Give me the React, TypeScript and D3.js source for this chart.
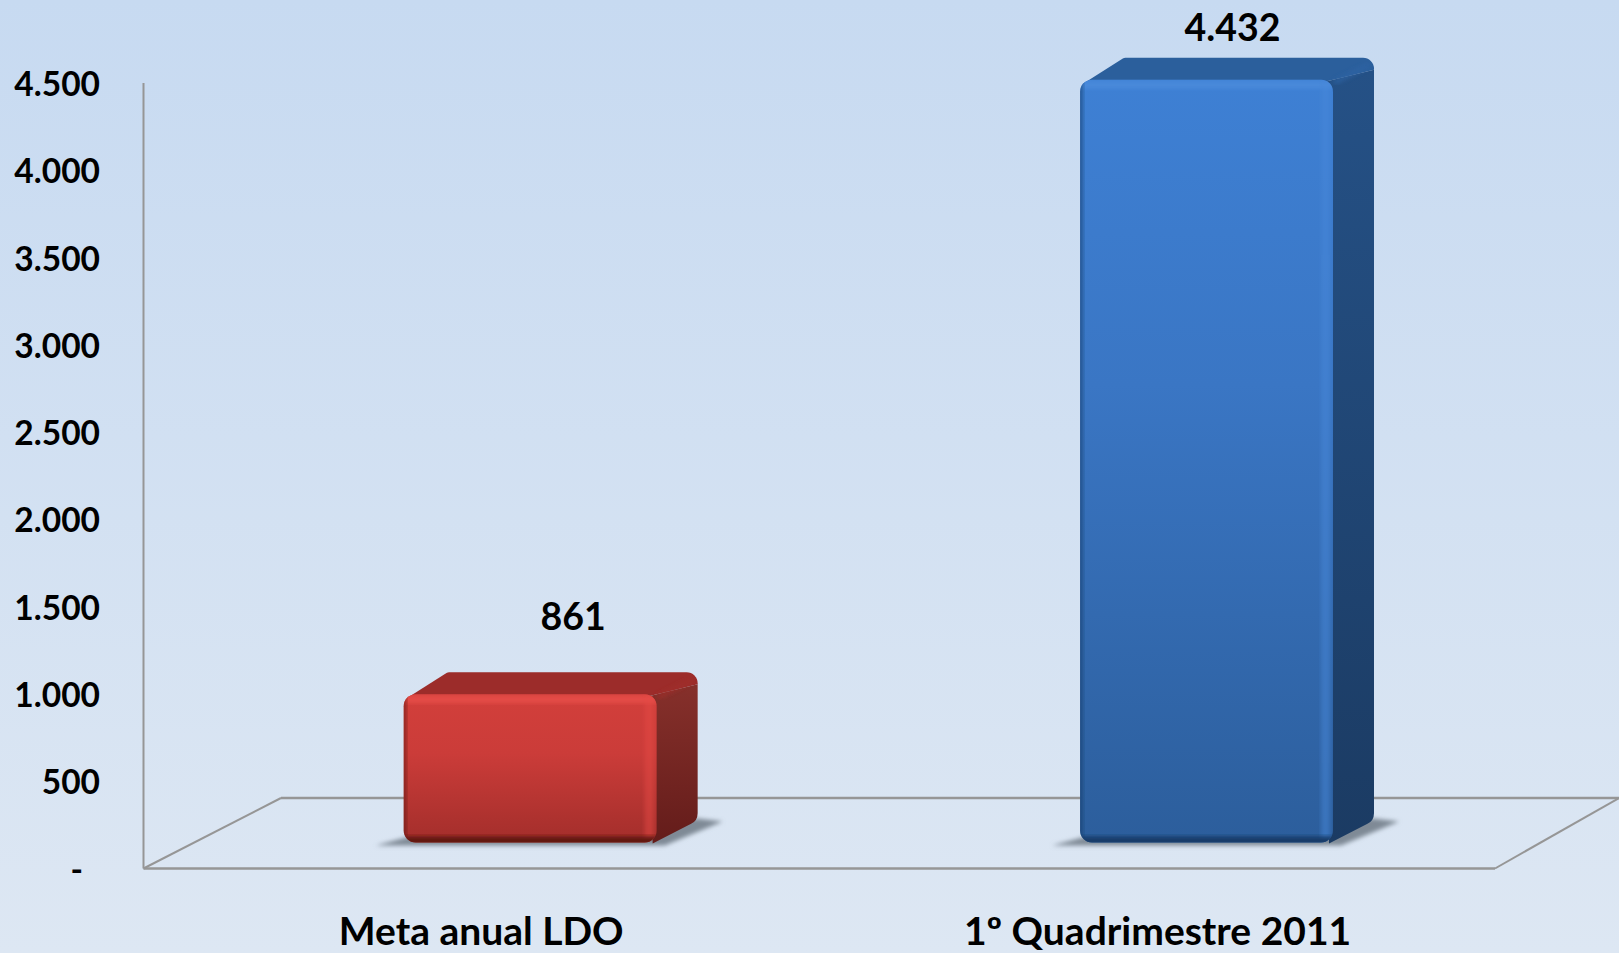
import * as d3 from "d3";

const categories = ["Meta anual LDO", "1º Quadrimestre 2011"];
const values = [861, 4432];
const tickValues = [0, 500, 1000, 1500, 2000, 2500, 3000, 3500, 4000, 4500];

const W = 1619;
const H = 953;

const FONT = "Lato, Carlito, 'Open Sans', sans-serif";

const ptBR = d3.formatLocale({ decimal: ",", thousands: ".", grouping: [3], currency: ["", ""] });
const fmt = ptBR.format(",d");
const tickLabel = (v: number) => (v === 0 ? "-" : fmt(v));

// axis plane
const y = d3.scaleLinear().domain([0, 4500]).range([868.5, 83]);
// front plane of the bars sits a bit forward on the floor
const yBar = d3.scaleLinear().domain([0, 4500]).range([842.5, 68]);
const x = d3.scaleBand<string>().domain(categories).range([403.7, 1333]).paddingInner(0.626).paddingOuter(0);

const depthX = 41;
const depthY = -22;

const palette = [
  {
    id: "red",
    front: ["#d23f3b", "#cb3c39", "#a32e2b"],
    strip: "#e44c47",
    rim: "#5e1411",
    top: "#9c2c2a",
    side: ["#86302b", "#641c1a"],
    sideRim: "#a02e2b",
  },
  {
    id: "blue",
    front: ["#3e80d4", "#3a76c4", "#2c5e9c"],
    strip: "#4889da",
    rim: "#173a66",
    top: "#2b5f9c",
    side: ["#255186", "#1b3b63"],
    sideRim: "#2e64a4",
  },
];

// label nudges, the labels are not centred on the bars in the source
const categoryShift = -49;
const valueShift = [43, 26];
const valueGap = [56, 30];

// closed polygon with rounded corners, radius per corner
const roundedPoly = (pts: number[][], radii: number[]) => {
  const p = d3.path();
  const n = pts.length;
  const mid = [(pts[n - 1][0] + pts[0][0]) / 2, (pts[n - 1][1] + pts[0][1]) / 2];
  p.moveTo(mid[0], mid[1]);
  pts.forEach((pt, i) => {
    const next = pts[(i + 1) % n];
    if (radii[i] > 0) p.arcTo(pt[0], pt[1], next[0], next[1], radii[i]);
    else p.lineTo(pt[0], pt[1]);
  });
  p.closePath();
  return p.toString();
};

const Bar = ({ i }: { i: number }) => {
  const c = palette[i];
  const x0 = x(categories[i]) as number;
  const x1 = x0 + x.bandwidth();
  const yt = yBar(values[i]);
  const yb = yBar(0);

  const front = roundedPoly(
    [[x0, yt], [x1, yt], [x1, yb], [x0, yb]],
    [12, 12, 12, 12]
  );
  const top = roundedPoly(
    [[x0 + 3, yt + 4], [x0 + depthX + 3, yt + depthY], [x1 + depthX, yt + depthY], [x1 + depthX, yt + depthY + 12], [x1 - 8, yt + 2], [x0 + 3, yt + 10]],
    [0, 5, 11, 0, 0, 0]
  );
  const side = roundedPoly(
    [[x1 - 8, yt + 2], [x1 + depthX, yt + depthY + 12], [x1 + depthX, yb + depthY], [x1 - 4, yb + 1]],
    [0, 0, 12, 0]
  );
  const shadow = [
    [x0 - 28, yb + 3],
    [x0 + 6, yb - 6],
    [x1 + depthX, yb + depthY - 2],
    [x1 + depthX + 25, yb + depthY + 1],
    [x1 + 8, yb + 3],
  ].map((p) => p.join(",")).join(" ");

  return (
    <g>
      <polygon points={shadow} fill="#7f8a96" filter="url(#soft)" />
      <path d={top} fill={c.top} />
      <path d={side} fill={`url(#side-${c.id})`} />
      <path d={`M${x1 + 3},${yt + 2}L${x1 + depthX - 7},${yt + depthY + 8}`} stroke={c.sideRim} strokeWidth={5} strokeLinecap="round" filter="url(#soft)" opacity={0.7} />
      <clipPath id={`clip-${c.id}`}>
        <path d={front} />
      </clipPath>
      <path d={front} fill={`url(#front-${c.id})`} />
      <g clipPath={`url(#clip-${c.id})`}>
        <rect x={x0} y={yt + 1} width={x1 - x0} height={8} fill={c.strip} filter="url(#soft)" />
        <rect x={x1 - 12} y={yt} width={9} height={yb - yt} fill={c.strip} opacity={0.5} filter="url(#soft)" />
        <rect x={x0 - 3} y={yt} width={6} height={yb - yt} fill={c.rim} opacity={0.55} filter="url(#soft)" />
        <rect x={x0} y={yb - 6} width={x1 - x0} height={8} fill={c.rim} filter="url(#soft)" />
      </g>
    </g>
  );
};

export default function App() {
  const floorFrontY = y(0);
  const floorBackY = 798;
  const axisX = 143.5;
  const backLeft = 281;
  const frontRight = 1495;

  return (
    <svg width={W} height={H} viewBox={`0 0 ${W} ${H}`} style={{ position: "absolute", left: 0, top: 0, display: "block" }}>
      <defs>
        <linearGradient id="bg" x1="0" y1="0" x2="0" y2="1">
          <stop offset="0" stopColor="#c7daf1" />
          <stop offset="1" stopColor="#dde7f3" />
        </linearGradient>
        <filter id="soft" x="-20%" y="-20%" width="140%" height="140%">
          <feGaussianBlur stdDeviation="2" />
        </filter>
        {palette.map((c) => (
          <g key={c.id}>
            <linearGradient id={`front-${c.id}`} x1="0" y1="0" x2="0" y2="1">
              <stop offset="0" stopColor={c.front[0]} />
              <stop offset="0.4" stopColor={c.front[1]} />
              <stop offset="1" stopColor={c.front[2]} />
            </linearGradient>
            <linearGradient id={`side-${c.id}`} x1="0" y1="0" x2="0" y2="1">
              <stop offset="0" stopColor={c.side[0]} />
              <stop offset="1" stopColor={c.side[1]} />
            </linearGradient>
          </g>
        ))}
      </defs>

      <rect width={W} height={H} fill="url(#bg)" />

      {/* floor and value axis */}
      <g fill="none" stroke="#969696" strokeWidth={2.5}>
        <line x1={axisX} y1={y(4500)} x2={axisX} y2={floorFrontY} strokeWidth={2} />
        <line x1={axisX} y1={floorFrontY} x2={frontRight} y2={floorFrontY} />
        <line x1={axisX} y1={floorFrontY} x2={backLeft} y2={floorBackY} strokeWidth={2} />
        <line x1={backLeft} y1={floorBackY} x2={W} y2={floorBackY} />
        <line x1={frontRight} y1={floorFrontY} x2={W} y2={floorBackY} strokeWidth={2} />
      </g>

      {tickValues.map((v) => (
        <text
          key={v}
          x={v === 0 ? 83 : 100}
          y={y(v) + 1}
          dy="0.36em"
          textAnchor="end"
          fontFamily={FONT}
          fontWeight={700}
          fontSize={33.5}
          fill="#000"
        >
          {tickLabel(v)}
        </text>
      ))}

      {categories.map((_, i) => (
        <Bar key={i} i={i} />
      ))}

      {categories.map((name, i) => {
        const cx = (x(name) as number) + x.bandwidth() / 2;
        return (
          <g key={name} fontFamily={FONT} fontWeight={700} fill="#000" textAnchor="middle">
            <text x={cx + valueShift[i]} y={yBar(values[i]) + depthY - valueGap[i]} dy="0.36em" fontSize={37.5}>
              {fmt(values[i])}
            </text>
            <text x={cx + categoryShift} y={945} fontSize={39}>
              {name}
            </text>
          </g>
        );
      })}
    </svg>
  );
}
